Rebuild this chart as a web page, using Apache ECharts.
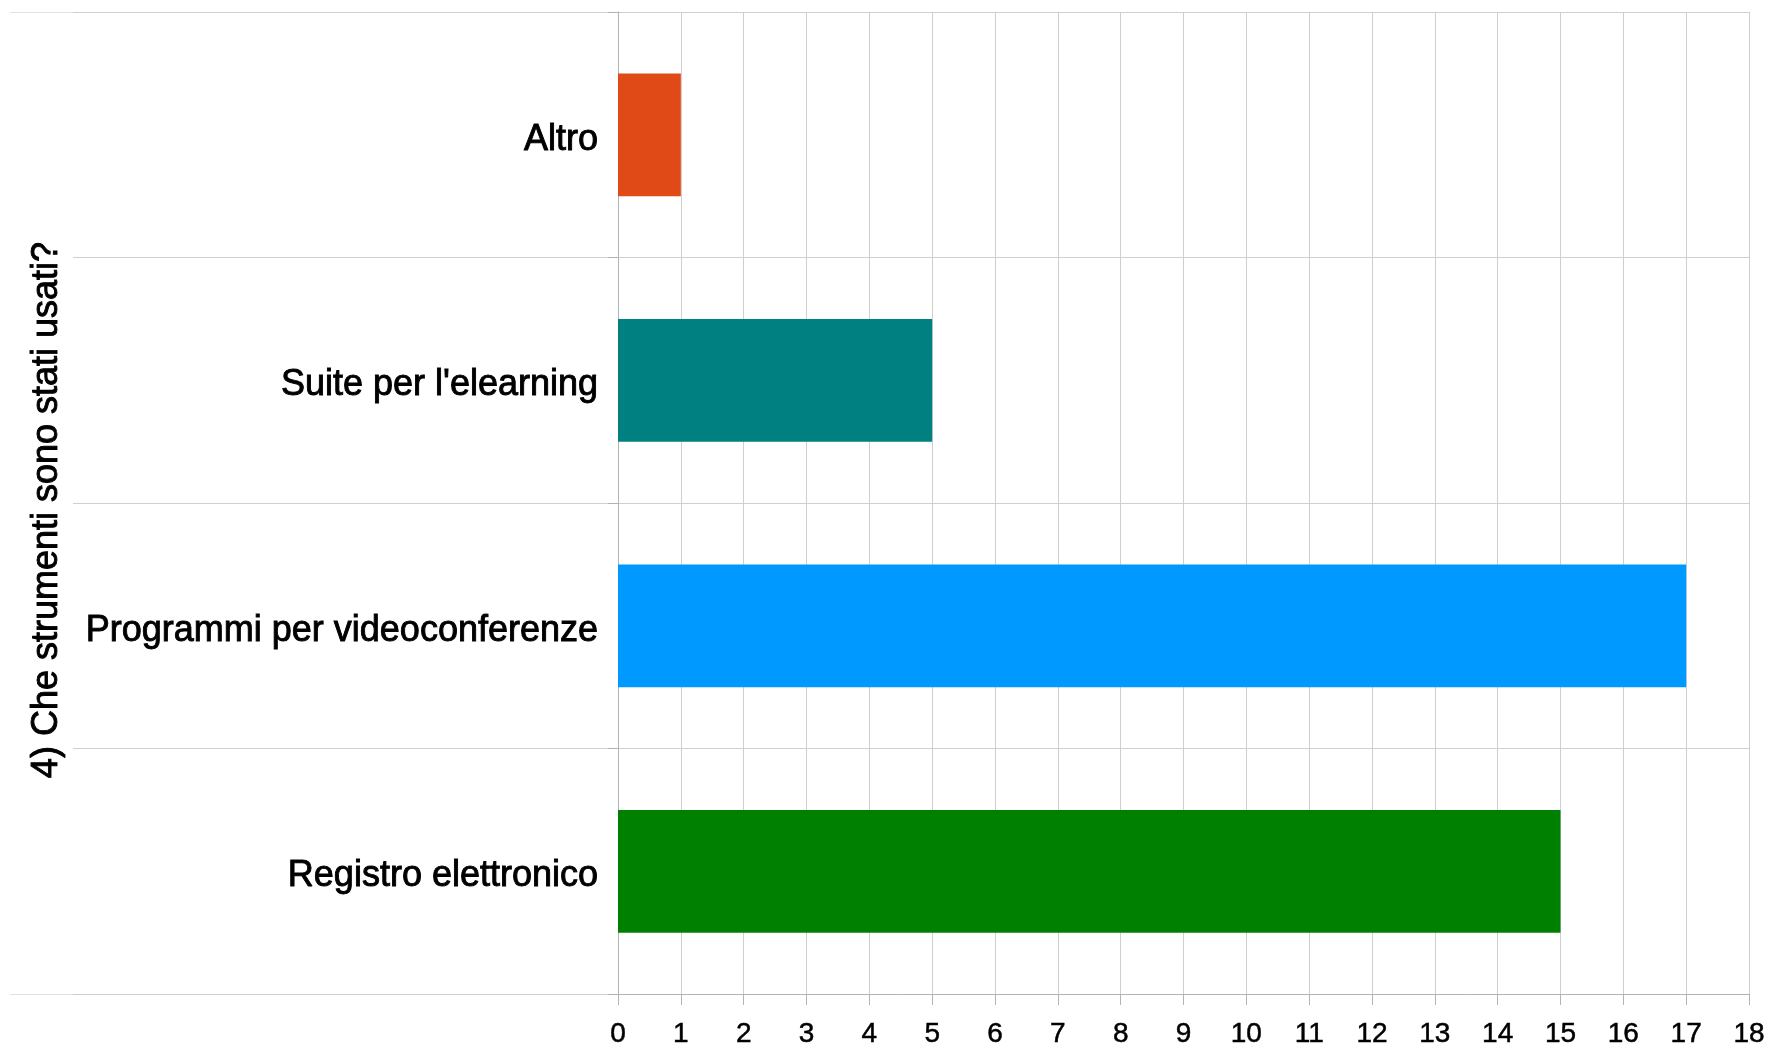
<!DOCTYPE html>
<html>
<head>
<meta charset="utf-8">
<script src="https://cdn.jsdelivr.net/npm/echarts@6/dist/echarts.min.js"></script>
<style>
html,body{margin:0;padding:0;background:#fff;}
#chart{width:1767px;height:1046px;}
</style>
</head>
<body>
<div id="chart"></div>
<script>
const categories = ['Altro', "Suite per l'elearning", 'Programmi per videoconferenze', 'Registro elettronico'];
const values = [1, 5, 17, 15];
const barColors = ['#e04a16', '#008080', '#0099ff', '#008000'];
const axisTitle = '4) Che strumenti sono stati usati?';
const xMin = 0, xMax = 18, xStep = 1;

const FONT = '"Liberation Sans", Arial, sans-serif';
const axisColor = '#b3b3b3';
const gridColor = '#cfcfcf';

const chart = echarts.init(document.getElementById('chart'));
chart.setOption({
  backgroundColor: '#fff',
  animation: false,
  grid: [
    {left: 618, right: 18, top: 12, bottom: 52, outerBoundsMode: 'none', containLabel: false},
    {left: 73, right: 18, top: 12, bottom: 52, outerBoundsMode: 'none', containLabel: false},
    {left: 10, right: 1694, top: 12, bottom: 52, outerBoundsMode: 'none', containLabel: false}
  ],
  xAxis: [
    {
      gridIndex: 0, type: 'value', min: xMin, max: xMax, interval: xStep,
      axisLine: {show: true, lineStyle: {color: axisColor, width: 1}},
      axisTick: {show: true, length: 11, lineStyle: {color: axisColor}},
      splitLine: {show: true, lineStyle: {color: gridColor, width: 1}},
      axisLabel: {fontFamily: FONT, fontSize: 28, color: '#000', margin: 26,
                  textBorderColor: '#000', textBorderWidth: 0.5},
      z: 2
    },
    {gridIndex: 1, type: 'value', min: 0, max: 1, show: false},
    {gridIndex: 2, type: 'value', min: 0, max: 1, show: false}
  ],
  yAxis: [
    {
      gridIndex: 0, type: 'category', data: categories, inverse: true,
      axisLine: {show: true, lineStyle: {color: axisColor, width: 1}},
      axisTick: {show: true, length: 10, lineStyle: {color: axisColor}},
      splitLine: {show: false},
      axisLabel: {fontFamily: FONT, fontSize: 36, color: '#000', margin: 20,
                  verticalAlign: 'top', lineHeight: 10,
                  textBorderColor: '#000', textBorderWidth: 0.9},
      name: axisTitle,
      nameLocation: 'middle',
      nameRotate: 90,
      nameGap: 553,
      nameTextStyle: {fontFamily: FONT, fontSize: 36, color: '#000', padding: [0, 14, 0, 0],
                      textBorderColor: '#000', textBorderWidth: 0.9},
      z: 3
    },
    {
      gridIndex: 1, type: 'category', data: categories, inverse: true,
      axisLine: {show: false}, axisTick: {show: false}, axisLabel: {show: false},
      splitLine: {show: true, lineStyle: {color: gridColor, width: 1}},
      z: 1
    },
    {
      gridIndex: 2, type: 'category', data: [''],
      axisLine: {show: false}, axisTick: {show: false}, axisLabel: {show: false},
      splitLine: {show: true, lineStyle: {color: '#e2e2e2', width: 1}},
      z: 1
    }
  ],
  series: [{
    type: 'bar',
    xAxisIndex: 0, yAxisIndex: 0,
    barWidth: '50%',
    data: values.map((v, i) => ({value: v, itemStyle: {color: barColors[i]}})),
    z: 4
  }]
});
</script>
</body>
</html>
